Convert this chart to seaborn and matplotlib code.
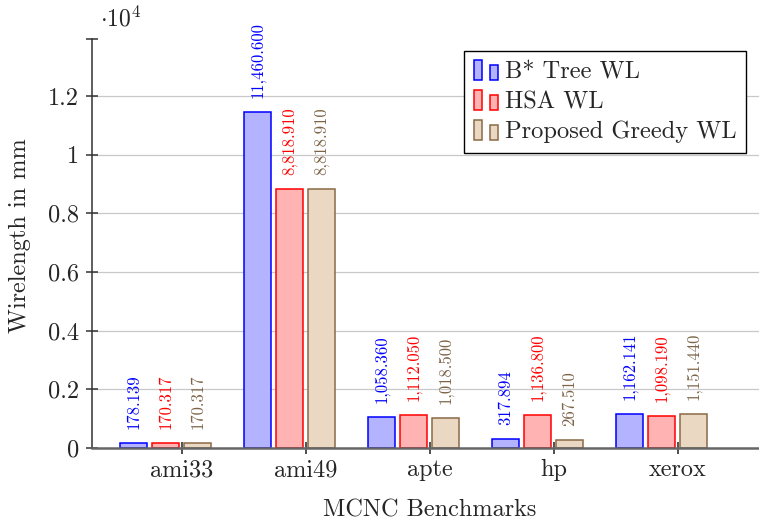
import matplotlib
matplotlib.use("Agg")
import matplotlib.pyplot as plt
import seaborn as sns
import pandas as pd
from matplotlib.patches import Patch, Rectangle
from matplotlib.legend_handler import HandlerBase
from matplotlib.ticker import FuncFormatter

# ---- data ----
benchmarks = ["ami33", "ami49", "apte", "hp", "xerox"]
series = ["B* Tree WL", "HSA WL", "Proposed Greedy WL"]
bstar_wl = [178.139, 11460.600, 1058.360, 317.894, 1162.141]
hsa_wl = [170.317, 8818.910, 1112.050, 1136.800, 1098.190]
greedy_wl = [170.317, 8818.910, 1018.500, 267.510, 1151.440]
y_ticks = [0, 2000, 4000, 6000, 8000, 10000, 12000]

fills = ["#b3b3ff", "#ffb3b3", "#ead8c3"]
edges = ["#0000ff", "#ff0000", "#8a6a45"]
label_cols = ["#0000ff", "#ff0000", "#7d6448"]

rows = []
for s, vals in zip(series, [bstar_wl, hsa_wl, greedy_wl]):
    for b, v in zip(benchmarks, vals):
        rows.append({"Benchmark": b, "Series": s, "WL": v})
df = pd.DataFrame(rows)

sns.set_style("white")
plt.rcParams["font.family"] = ["cmr10", "DejaVu Serif"]
plt.rcParams["mathtext.fontset"] = "cm"
plt.rcParams["axes.formatter.use_mathtext"] = True

fig = plt.figure(figsize=(7.59, 5.21), dpi=100)
ax = fig.add_axes([0.1212, 0.1401, 0.8788, 0.7850])

sns.barplot(data=df, x="Benchmark", y="WL", hue="Series", order=benchmarks,
            hue_order=series, palette=fills, width=0.774, gap=0.14,
            ax=ax, legend=False, saturation=1)

for cont, ec, lc, vals in zip(ax.containers, edges, label_cols,
                              [bstar_wl, hsa_wl, greedy_wl]):
    for bar, v in zip(cont, vals):
        bar.set_edgecolor(ec)
        bar.set_linewidth(1.1)
        ax.annotate(f"{v:,.3f}", (bar.get_x() + bar.get_width() / 2, bar.get_height()),
                    xytext=(0, 10), textcoords="offset points", rotation=90,
                    ha="center", va="bottom", color=lc, fontsize=12)

ax.set_xlim(-0.593, 4.786)
ax.set_ylim(0, 13943)
ax.set_xticks([i + 0.129 for i in range(len(benchmarks))])
ax.set_xticklabels(benchmarks)
ax.set_yticks(y_ticks)
ax.yaxis.set_major_formatter(FuncFormatter(lambda v, p: f"{v/1e4:g}"))
ax.set_yticks([13943], minor=True)

ax.yaxis.grid(True, color="#c8c8c8", linewidth=0.9)
ax.xaxis.grid(False)
ax.set_axisbelow(True)

for sp in ["top", "right"]:
    ax.spines[sp].set_visible(False)
ax.spines["left"].set_color("#333333")
ax.spines["left"].set_linewidth(1.1)
ax.spines["bottom"].set_color("#666666")
ax.spines["bottom"].set_linewidth(1.8)

ax.tick_params(axis="y", which="both", direction="inout", length=9, width=1.1,
               color="#333333", labelsize=17.5, pad=5, left=True)
ax.tick_params(axis="x", direction="inout", length=8, width=1.1,
               color="#222222", labelsize=17.5, pad=4, bottom=True)

ax.set_xlabel("MCNC Benchmarks", fontsize=17.5)
ax.set_ylabel("Wirelength in mm", fontsize=17.5)
ax.xaxis.set_label_coords(0.507, -0.125)
ax.yaxis.set_label_coords(-0.092, 0.52)

fig.text(100 / 759, 1 - 26 / 521, r"$\cdot 10^4$", fontsize=17, ha="left", va="baseline")


class TwoBarHandler(HandlerBase):
    def create_artists(self, legend, orig_handle, xdescent, ydescent, width, height,
                       fontsize, trans):
        fc = orig_handle.get_facecolor()
        ec = orig_handle.get_edgecolor()
        w = width * 0.34
        h = height * 1.15
        y0 = -ydescent - height * 0.1
        r1 = Rectangle((-xdescent, y0), w, h, facecolor=fc,
                       edgecolor=ec, linewidth=1.1, transform=trans)
        r2 = Rectangle((-xdescent + width * 0.64, y0), w, h * 0.75,
                       facecolor=fc, edgecolor=ec, linewidth=1.1, transform=trans)
        return [r1, r2]


handles = [Patch(facecolor=f, edgecolor=e, label=s) for f, e, s in zip(fills, edges, series)]
leg = ax.legend(handles=handles, handler_map={Patch: TwoBarHandler()},
                loc="upper right", bbox_to_anchor=(0.9805, 0.9707), borderaxespad=0,
                fontsize=17.6, frameon=True, fancybox=False, framealpha=1,
                edgecolor="black", handlelength=1.0, handleheight=0.75,
                handletextpad=0.25, borderpad=0.4, labelspacing=0.3)
leg.get_frame().set_linewidth(1.0)

fig.savefig("out.png", dpi=100)
